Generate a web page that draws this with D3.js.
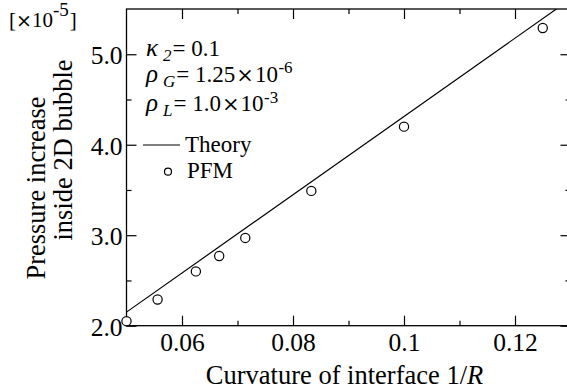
<!DOCTYPE html>
<html>
<head>
<meta charset="utf-8">
<script src="https://cdn.jsdelivr.net/npm/d3@7"></script>
<style>
  html, body { margin: 0; padding: 0; background: #fff; }
  svg { display: block; }
  text { font-family: "Liberation Serif", "Times New Roman", serif; fill: #000; }
</style>
</head>
<body>
<svg id="chart" width="567" height="389"></svg>
<script>
// Curvature 1/R of each simulated bubble and the pressure rise inside it (×10^-5)
const curvature = [0.05, 0.0556, 0.0625, 0.0667, 0.0714, 0.0833, 0.1, 0.125];
const pfmPressure = [2.05, 2.29, 2.60, 2.77, 2.97, 3.49, 4.20, 5.29];

// Theoretical (Laplace) line, given by its two end points
const theoryCurvature = [0.05, 0.13];
const theoryPressure = [2.15, 5.61];

// Axis ranges and ticks
const xDomain = [0.05, 0.13];
const yDomain = [2.0, 5.5];
const xMajorTicks = [0.06, 0.08, 0.1, 0.12];
const xMajorLabels = ["0.06", "0.08", "0.1", "0.12"];
const xMinorTicks = [0.07, 0.09, 0.11];
const yMajorTicks = [2, 3, 4, 5];
const yMajorLabels = ["2.0", "3.0", "4.0", "5.0"];
const yMinorTicks = [2.5, 3.5, 4.5];

const svg = d3.select("#chart");
const W = 567, H = 389;
const plot = { left: 126.5, top: 9, right: 570.5, bottom: 325.7 };

const x = d3.scaleLinear().domain(xDomain).range([plot.left, plot.right]);
const y = d3.scaleLinear().domain(yDomain).range([plot.bottom, plot.top]);

svg.append("rect").attr("width", W).attr("height", H).attr("fill", "#fff");

// Clip for marks inside the frame
svg.append("defs").append("clipPath").attr("id", "plotClip")
  .append("rect")
  .attr("x", plot.left).attr("y", plot.top)
  .attr("width", plot.right - plot.left).attr("height", plot.bottom - plot.top);

const tickFont = 25.5;
const majorLen = 10, minorLen = 5;

function styleAxis(g) {
  g.select(".domain").remove();
  g.selectAll(".tick line").attr("stroke", "#000").attr("stroke-width", 1.2);
  g.selectAll("text").attr("font-size", tickFont).attr("fill", "#000");
}

// Bottom axis (labelled) and minor ticks
svg.append("g").attr("transform", `translate(0,${plot.bottom})`)
  .call(d3.axisBottom(x).tickValues(xMajorTicks).tickSize(-majorLen).tickPadding(7)
    .tickFormat((d, i) => xMajorLabels[i]))
  .call(styleAxis);
svg.append("g").attr("transform", `translate(0,${plot.bottom})`)
  .call(d3.axisBottom(x).tickValues(xMinorTicks).tickSize(-minorLen).tickFormat(""))
  .call(styleAxis);
// Top mirror ticks
svg.append("g").attr("transform", `translate(0,${plot.top})`)
  .call(d3.axisTop(x).tickValues(xMajorTicks).tickSize(-majorLen).tickFormat(""))
  .call(styleAxis);
svg.append("g").attr("transform", `translate(0,${plot.top})`)
  .call(d3.axisTop(x).tickValues(xMinorTicks).tickSize(-minorLen).tickFormat(""))
  .call(styleAxis);

// Left axis (labelled) and minor ticks
const leftAxis = svg.append("g").attr("transform", `translate(${plot.left},0)`)
  .call(d3.axisLeft(y).tickValues(yMajorTicks).tickSize(-majorLen).tickPadding(4)
    .tickFormat((d, i) => yMajorLabels[i]))
  .call(styleAxis);
leftAxis.selectAll("text").attr("dy", "0.38em");
svg.append("g").attr("transform", `translate(${plot.left},0)`)
  .call(d3.axisLeft(y).tickValues(yMinorTicks).tickSize(-minorLen).tickFormat(""))
  .call(styleAxis);
// Right mirror ticks
svg.append("g").attr("transform", `translate(${plot.right},0)`)
  .call(d3.axisRight(y).tickValues(yMajorTicks).tickSize(-majorLen).tickFormat(""))
  .call(styleAxis);
svg.append("g").attr("transform", `translate(${plot.right},0)`)
  .call(d3.axisRight(y).tickValues(yMinorTicks).tickSize(-minorLen).tickFormat(""))
  .call(styleAxis);

// Frame
svg.append("rect")
  .attr("x", plot.left).attr("y", plot.top)
  .attr("width", plot.right - plot.left).attr("height", plot.bottom - plot.top)
  .attr("fill", "none").attr("stroke", "#000").attr("stroke-width", 1.3);

// Theory line
const theory = d3.zip(theoryCurvature, theoryPressure);
svg.append("path")
  .datum(theory)
  .attr("clip-path", "url(#plotClip)")
  .attr("fill", "none").attr("stroke", "#000").attr("stroke-width", 1.2)
  .attr("d", d3.line().x(d => x(d[0])).y(d => y(d[1])));

// PFM results
svg.append("g").selectAll("circle")
  .data(d3.zip(curvature, pfmPressure))
  .join("circle")
  .attr("cx", d => x(d[0])).attr("cy", d => y(d[1]))
  .attr("r", 4.6)
  .attr("fill", "#fff").attr("stroke", "#000").attr("stroke-width", 1.2);

// Lay out a formula as a run of separate text pieces, each placed after the last
function formula(x0, baseline, pieces) {
  let cx = x0;
  pieces.forEach(p => {
    const t = svg.append("text")
      .attr("x", cx + (p.dx || 0))
      .attr("y", baseline + (p.shift || 0))
      .attr("font-size", p.size)
      .text(p.text);
    if (p.italic) t.attr("font-style", "italic");
    if (p.family) t.style("font-family", p.family);
    cx += (p.dx || 0) + t.node().getComputedTextLength();
  });
}

// Unit of the vertical axis
formula(9, 27, [
  { text: "[", size: 21 },
  { text: "×", size: 19, family: "DejaVu Serif, serif" },
  { text: "10", size: 21 },
  { text: "-5", size: 19, shift: -11 },
  { text: "]", size: 21, dx: 1 }
]);

// Parameter list
const legFont = 23;
formula(146, 56, [
  { text: "κ", size: 25, italic: true },
  { text: "2", size: 17, italic: true, dx: 5, shift: 5 },
  { text: "= 0.1", size: legFont, dx: 1 }
]);
formula(146, 82, [
  { text: "ρ", size: 25, italic: true },
  { text: "G", size: 17, italic: true, dx: 5, shift: 5 },
  { text: "= 1.25", size: legFont, dx: 1 },
  { text: "×", size: 21, family: "DejaVu Serif, serif", dx: 1 },
  { text: "10", size: legFont, dx: 1 },
  { text: "-6", size: 17, shift: -9, dx: 0.5 }
]);
formula(146, 111, [
  { text: "ρ", size: 25, italic: true },
  { text: "L", size: 17, italic: true, dx: 5, shift: 5 },
  { text: "= 1.0", size: legFont, dx: 1 },
  { text: "×", size: 21, family: "DejaVu Serif, serif", dx: 1 },
  { text: "10", size: legFont, dx: 1 },
  { text: "-3", size: 17, shift: -8.5, dx: 0.5 }
]);

// Legend
svg.append("line").attr("x1", 143).attr("x2", 180).attr("y1", 145).attr("y2", 145)
  .attr("stroke", "#000").attr("stroke-width", 1.2);
svg.append("text").attr("x", 185).attr("y", 151.7).attr("font-size", legFont).text("Theory");
svg.append("circle").attr("cx", 168).attr("cy", 171.7).attr("r", 3.5)
  .attr("fill", "#fff").attr("stroke", "#000").attr("stroke-width", 1.2);
svg.append("text").attr("x", 187).attr("y", 177.5).attr("font-size", legFont).text("PFM");

// Axis titles
const xt = svg.append("text").attr("x", 344.5).attr("y", 384)
  .attr("text-anchor", "middle").attr("font-size", 26.5);
xt.append("tspan").text("Curvature of interface 1/");
xt.append("tspan").attr("font-style", "italic").text("R");

svg.append("text").attr("transform", "translate(45,188) rotate(-90)")
  .attr("text-anchor", "middle").attr("font-size", 26.5).text("Pressure increase");
svg.append("text").attr("transform", "translate(72,150) rotate(-90)")
  .attr("text-anchor", "middle").attr("font-size", 26.5).text("inside 2D bubble");
</script>
</body>
</html>
